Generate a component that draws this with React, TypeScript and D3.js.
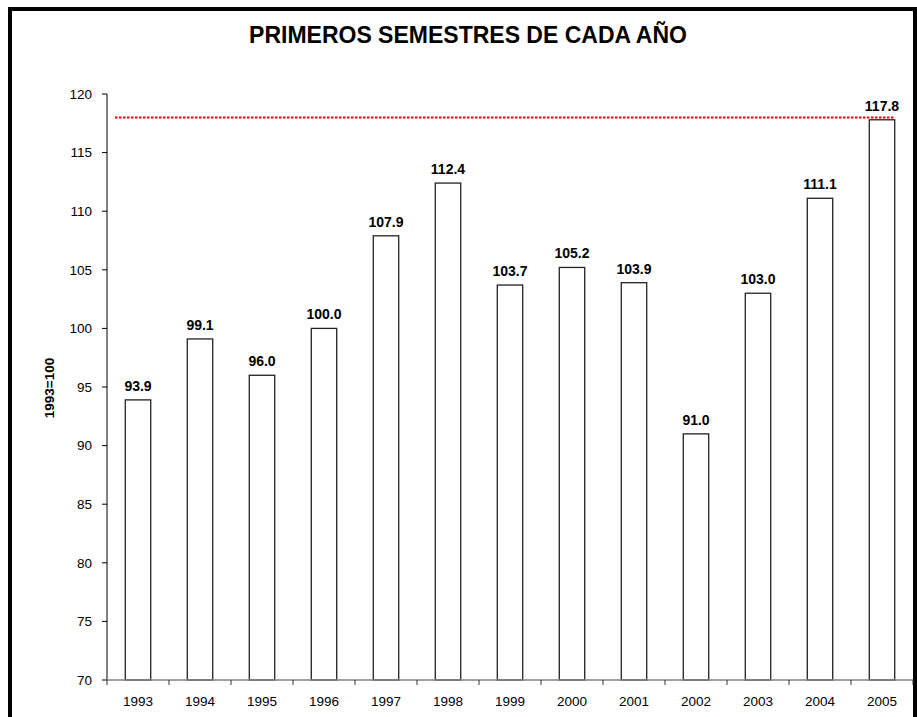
import * as d3 from "d3"
import React from "react"

const years = ["1993", "1994", "1995", "1996", "1997", "1998", "1999", "2000", "2001", "2002", "2003", "2004", "2005"]
const values = [93.9, 99.1, 96.0, 100.0, 107.9, 112.4, 103.7, 105.2, 103.9, 91.0, 103.0, 111.1, 117.8]
const yTicks = [70, 75, 80, 85, 90, 95, 100, 105, 110, 115, 120]
const refLevel = 118
const title = "PRIMEROS SEMESTRES DE CADA AÑO"
const yLabel = "1993=100"

const W = 917
const H = 717
const font = "Arial, 'Liberation Sans', sans-serif"

const App = () => {
  const x = d3.scaleBand().domain(years).range([107, 913]).padding(0)
  const y = d3.scaleLinear().domain([70, 120]).range([680, 94])
  const step = x.bandwidth()
  const barW = step * 0.41
  const lastX = (x(years[years.length - 1]) ?? 0) + step / 2 + barW / 2

  return (
    <svg width={W} height={H} style={{ position: "absolute", left: 0, top: 0, background: "#fff" }}>
      <rect x={10} y={9} width={905} height={H + 20} fill="#fff" stroke="#000" strokeWidth={4} />
      <text x={468} y={43} textAnchor="middle" fontFamily={font} fontWeight="bold" fontSize={23}>
        {title}
      </text>

      {/* bars */}
      {years.map((yr, i) => (
        <rect
          key={yr}
          x={(x(yr) ?? 0) + step / 2 - barW / 2}
          y={y(values[i])}
          width={barW}
          height={y(70) - y(values[i])}
          fill="#fff"
          stroke="#222"
          strokeWidth={1.3}
        />
      ))}
      {years.map((yr, i) => (
        <text
          key={"l" + yr}
          x={(x(yr) ?? 0) + step / 2}
          y={y(values[i]) - 9}
          textAnchor="middle"
          fontFamily={font}
          fontWeight="bold"
          fontSize={14}
        >
          {values[i].toFixed(1)}
        </text>
      ))}

      {/* reference line */}
      <line
        x1={x.range()[0] + 8}
        x2={lastX}
        y1={y(refLevel)}
        y2={y(refLevel)}
        stroke="#f00"
        strokeWidth={2}
        strokeDasharray="2.5,1.5"
      />

      {/* y axis */}
      <line x1={107} x2={107} y1={y(70)} y2={y(120)} stroke="#000" strokeWidth={1} />
      {yTicks.map((t) => (
        <g key={t} transform={`translate(0,${y(t)})`}>
          <line x1={102} x2={107} stroke="#000" />
          <text x={92} dy="0.35em" textAnchor="end" fontFamily={font} fontSize={13.5}>
            {t}
          </text>
        </g>
      ))}
      <text
        transform={`translate(49,388) rotate(-90)`}
        textAnchor="middle"
        dy="0.35em"
        fontFamily={font}
        fontWeight="bold"
        fontSize={13.5}
      >
        {yLabel}
      </text>

      {/* x axis */}
      <line x1={x.range()[0]} x2={x.range()[1]} y1={y(70)} y2={y(70)} stroke="#808080" strokeWidth={1.3} />
      {years.concat([""]).map((yr, i) => {
        const px = x.range()[0] + i * step
        return <line key={"t" + i} x1={px} x2={px} y1={y(70)} y2={y(70) + 5} stroke="#333" />
      })}
      {years.map((yr) => (
        <text
          key={"x" + yr}
          x={(x(yr) ?? 0) + step / 2}
          y={706}
          textAnchor="middle"
          fontFamily={font}
          fontSize={13.5}
        >
          {yr}
        </text>
      ))}
    </svg>
  )
}

export default App
